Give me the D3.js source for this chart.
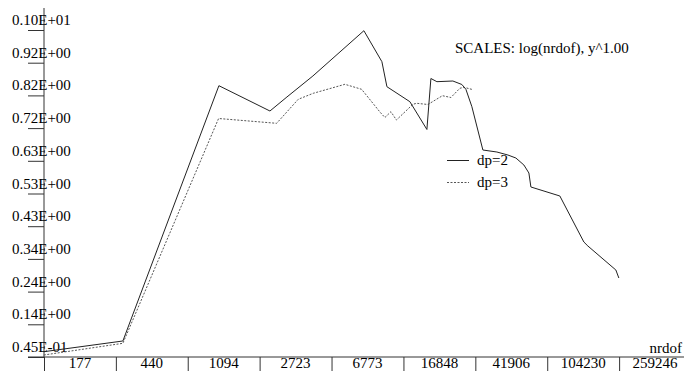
<!DOCTYPE html>
<html>
<head>
<meta charset="utf-8">
<script src="https://cdn.jsdelivr.net/npm/d3@7"></script>
<style>
  html, body { margin: 0; padding: 0; background: #fff; }
  svg { display: block; }
  text { font-family: "Liberation Serif", "Times New Roman", serif; font-size: 15px; fill: #000; }
</style>
</head>
<body>
<svg id="chart" width="684" height="371"></svg>
<script>
// nrdof values and errors for the two polynomial degrees
const dp2Nrdof = [112, 305, 1030, 1967, 2440, 3391, 6471, 8130, 8663, 11595, 14381, 15130, 16327, 19994, 22408, 23576, 25435, 29240, 34922, 40144, 44427, 49171, 52392, 53737, 77561, 105156, 110625, 157742, 163849];
const dp2Value  = [0.0607, 0.0925, 0.8498, 0.7747, 0.8163, 0.8786, 1.0129, 0.9210, 0.8468, 0.8023, 0.7199, 0.8711, 0.8617, 0.8637, 0.8533, 0.8391, 0.7875, 0.6590, 0.6531, 0.6442, 0.6353, 0.6145, 0.5908, 0.5493, 0.5226, 0.3861, 0.3743, 0.3031, 0.2793];

const dp3Nrdof = [112, 305, 1026, 2141, 2815, 3404, 5087, 6287, 7928, 8446, 9114, 9772, 12045, 12622, 14565, 17505, 19493, 21849, 22991, 25866];
const dp3Value  = [0.0509, 0.0856, 0.7525, 0.7382, 0.8094, 0.8272, 0.8539, 0.8391, 0.7718, 0.7554, 0.7726, 0.7480, 0.7946, 0.7976, 0.7940, 0.8201, 0.8148, 0.8421, 0.8450, 0.8379];

// axis tick labels
const xTickLabels = [177, 440, 1094, 2723, 6773, 16848, 41906, 104230, 259246];
const yTickLabels = ["0.45E-01", "0.14E+00", "0.24E+00", "0.34E+00", "0.43E+00", "0.53E+00", "0.63E+00", "0.72E+00", "0.82E+00", "0.92E+00", "0.10E+01"];
const yMin = 0.045, yMax = 1.015;

const seriesNames = ["dp=2", "dp=3"];
const titleText = "SCALES: log(nrdof), y^1.00";
const xAxisName = "nrdof";

const svg = d3.select("#chart");

// x: logarithmic, each label sits in the middle of its cell
const ratio = Math.pow(xTickLabels[xTickLabels.length - 1] / xTickLabels[0], 1 / (xTickLabels.length - 1));
const xLo = xTickLabels[0] / Math.sqrt(ratio);
const xHi = xTickLabels[xTickLabels.length - 1] * Math.sqrt(ratio);
const x = d3.scaleLog().domain([xLo, xHi]).range([44, 691]);

const y = d3.scaleLinear().domain([yMin, yMax]).range([357, 30]);
const yStep = (yMax - yMin) / (yTickLabels.length - 1);
const yTickValues = yTickLabels.map((_, i) => yMin + i * yStep);

// cell boundaries between the x labels
const xBounds = [xLo];
for (let i = 0; i < xTickLabels.length - 1; i++) xBounds.push(Math.sqrt(xTickLabels[i] * xTickLabels[i + 1]));

const axisColor = "#333";

// y axis
const yAxis = svg.append("g").attr("transform", "translate(44,0)")
  .call(d3.axisLeft(y).tickValues(yTickValues).tickSize(16).tickFormat(""));
yAxis.select(".domain").remove();
yAxis.selectAll("line").attr("stroke", axisColor);
svg.append("line").attr("x1", 44).attr("x2", 44).attr("y1", 8).attr("y2", 357).attr("stroke", axisColor);
svg.append("g").selectAll("text").data(yTickLabels).join("text")
  .attr("x", 12)
  .attr("y", (d, i) => y(yTickValues[i]) - 5)
  .text(d => d);

// x axis
svg.append("line").attr("x1", 28).attr("x2", 684).attr("y1", 357).attr("y2", 357).attr("stroke", axisColor);
const xAxis = svg.append("g").attr("transform", "translate(0,357)")
  .call(d3.axisBottom(x).tickValues(xBounds).tickSize(14).tickFormat(""));
xAxis.select(".domain").remove();
xAxis.selectAll("line").attr("stroke", axisColor);
svg.append("g").selectAll("text").data(xTickLabels).join("text")
  .attr("x", d => x(d))
  .attr("y", 368)
  .attr("text-anchor", "middle")
  .text(d => d);
svg.append("text").attr("x", 682).attr("y", 353).attr("text-anchor", "end").text(xAxisName);

// title
svg.append("text").attr("x", 455).attr("y", 53).text(titleText);

// series
const line = d3.line().x(d => x(d[0])).y(d => y(d[1]));
const dp2 = dp2Nrdof.map((n, i) => [n, dp2Value[i]]);
const dp3 = dp3Nrdof.map((n, i) => [n, dp3Value[i]]);

svg.append("path").datum(dp3).attr("d", line)
  .attr("fill", "none").attr("stroke", "#555").attr("stroke-width", 1).attr("stroke-dasharray", "2,1.5");
svg.append("path").datum(dp2).attr("d", line)
  .attr("fill", "none").attr("stroke", "#222").attr("stroke-width", 1);

// legend
const legend = [
  { name: seriesNames[0], ly: 160.5, ty: 165, dash: null, color: "#222" },
  { name: seriesNames[1], ly: 182.5, ty: 187, dash: "2,1.5", color: "#555" }
];
legend.forEach(d => {
  svg.append("line").attr("x1", 447).attr("x2", 469).attr("y1", d.ly).attr("y2", d.ly)
    .attr("stroke", d.color).attr("stroke-dasharray", d.dash);
  svg.append("text").attr("x", 477).attr("y", d.ty).text(d.name);
});
</script>
</body>
</html>
